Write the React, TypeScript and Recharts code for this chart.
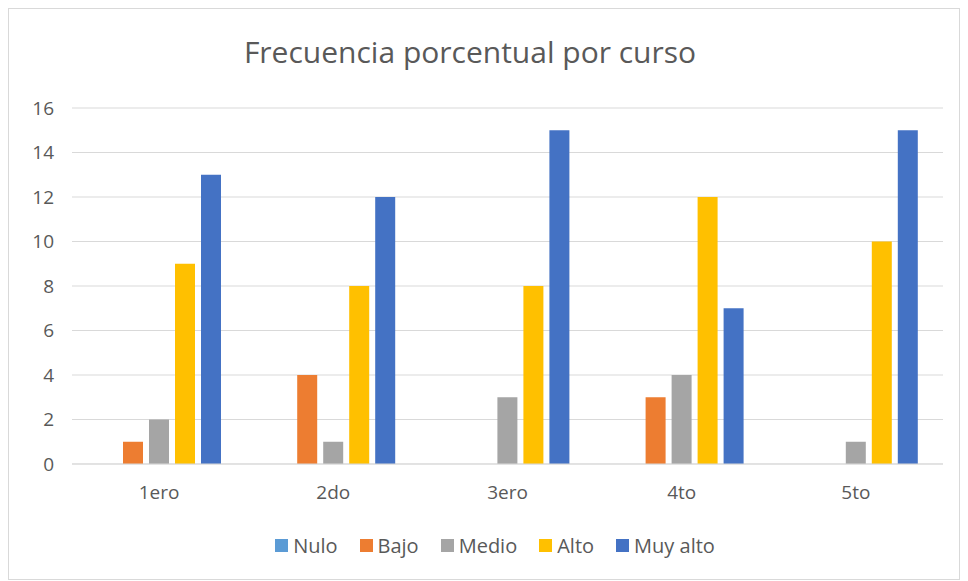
import { Bar, BarChart, CartesianGrid, Legend, XAxis, YAxis } from "recharts";

const cursos = ["1ero", "2do", "3ero", "4to", "5to"];
const nulo = [0, 0, 0, 0, 0];
const bajo = [1, 4, 0, 3, 0];
const medio = [2, 1, 3, 4, 1];
const alto = [9, 8, 8, 12, 10];
const muyAlto = [13, 12, 15, 7, 15];
const yTicks = [0, 2, 4, 6, 8, 10, 12, 14, 16];

const data = cursos.map((curso, i) => ({
  curso,
  Nulo: nulo[i],
  Bajo: bajo[i],
  Medio: medio[i],
  Alto: alto[i],
  "Muy alto": muyAlto[i],
}));

const series = [
  { key: "Nulo", color: "#5B9BD5" },
  { key: "Bajo", color: "#ED7D31" },
  { key: "Medio", color: "#A5A5A5" },
  { key: "Alto", color: "#FFC000" },
  { key: "Muy alto", color: "#4472C4" },
];

const font = "'Open Sans', 'Noto Sans', sans-serif";
const textColor = "#595959";

// keep the legend in series order (recharts sorts by name otherwise)
function SeriesLegend() {
  return (
    <div
      style={{
        display: "flex",
        justifyContent: "center",
        gap: 22,
        paddingLeft: 38,
        fontSize: 20,
        color: textColor,
      }}
    >
      {series.map((s) => (
        <span key={s.key} style={{ display: "inline-flex", alignItems: "center" }}>
          <span style={{ width: 13, height: 13, background: s.color, marginRight: 5 }} />
          {s.key}
        </span>
      ))}
    </div>
  );
}

export default function App() {
  return (
    <div
      style={{
        position: "relative",
        width: 950,
        height: 570,
        border: "1px solid #d9d9d9",
        background: "#fff",
        fontFamily: font,
      }}
    >
      <div
        style={{
          position: "absolute",
          top: 22,
          left: 0,
          width: 922,
          textAlign: "center",
          fontSize: 30,
          color: textColor,
        }}
      >
        Frecuencia porcentual por curso
      </div>
      <BarChart
        width={950}
        height={570}
        data={data}
        margin={{ top: 99, right: 16, bottom: 17, left: 0 }}
        barSize={20}
        barGap={6}
      >
        <CartesianGrid vertical={false} stroke="#d9d9d9" />
        <XAxis
          dataKey="curso"
          height={68}
          axisLine={{ stroke: "#d9d9d9" }}
          tickLine={false}
          tickSize={0}
          tickMargin={22}
          tick={{ fill: textColor, fontSize: 19, fontFamily: font }}
        />
        <YAxis
          width={63}
          domain={[0, 16]}
          ticks={yTicks}
          axisLine={false}
          tickLine={false}
          tickSize={0}
          tickMargin={18}
          tick={{ fill: textColor, fontSize: 19, fontFamily: font }}
        />
        <Legend verticalAlign="bottom" wrapperStyle={{ height: 30 }} content={<SeriesLegend />} />
        {series.map((s) => (
          <Bar key={s.key} dataKey={s.key} fill={s.color} isAnimationActive={false} />
        ))}
      </BarChart>
    </div>
  );
}
